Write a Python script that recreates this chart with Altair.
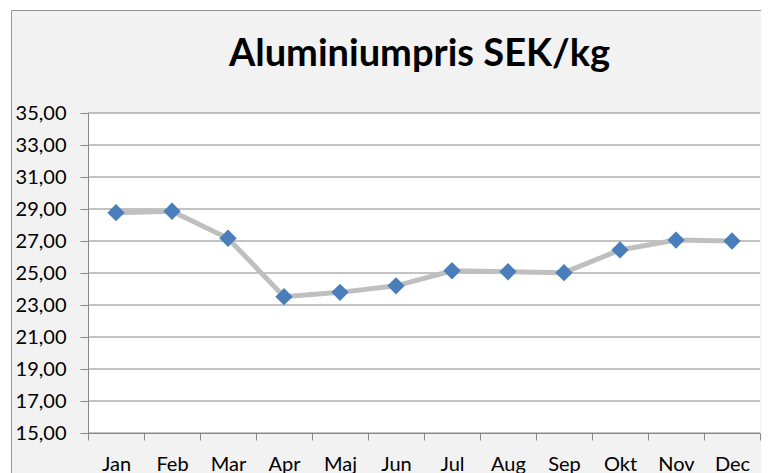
import altair as alt
import pandas as pd

months = ["Jan", "Feb", "Mar", "Apr", "Maj", "Jun", "Jul", "Aug", "Sep", "Okt", "Nov", "Dec"]
prices = [28.77, 28.86, 27.17, 23.52, 23.79, 24.20, 25.14, 25.08, 25.02, 26.44, 27.06, 27.00]
y_ticks = [15, 17, 19, 21, 23, 25, 27, 29, 31, 33, 35]
title_text = "Aluminiumpris SEK/kg"

W, H = 672, 320
GRID = "#878787"

df = pd.DataFrame({"month": months, "price": prices})
grid_df = pd.DataFrame({"v": y_ticks})
one = pd.DataFrame({"t": [title_text]})

xscale = alt.Scale(type="band", domain=months, paddingInner=0, paddingOuter=0)
yscale = alt.Scale(domain=[15, 35], nice=False, zero=False)

x_axis = alt.Axis(
    title=None, labelAngle=0, labelFont="Lato", labelFontSize=20, labelColor="black",
    labelPadding=14, tickSize=7, tickColor=GRID, domainColor=GRID, tickBand="extent",
    grid=False, zindex=1,
)
y_axis = alt.Axis(
    title=None, values=y_ticks, labelExpr="replace(format(datum.value, '.2f'), '.', ',')",
    labelFont="Lato", labelFontSize=20, labelColor="black", labelPadding=14,
    tickSize=8, tickColor=GRID, domainColor=GRID, grid=False, zindex=1,
)

frame = alt.Chart(one).mark_rect(fill="#f2f2f2", stroke="#979797", strokeWidth=1).encode(
    x=alt.value(-76.5), y=alt.value(-102.5), x2=alt.value(W + 60), y2=alt.value(H + 100)
)
plot_bg = alt.Chart(one).mark_rect(fill="white").encode(
    x=alt.value(0), x2=alt.value(W), y=alt.value(0), y2=alt.value(H)
)
grid = alt.Chart(grid_df).mark_rule(color=GRID, strokeWidth=1).encode(
    y=alt.Y("v:Q", scale=yscale, axis=y_axis)
)
line = alt.Chart(df).mark_line(color="#bfbfbf", strokeWidth=5).encode(
    x=alt.X("month:N", scale=xscale, sort=months, axis=x_axis),
    y=alt.Y("price:Q", scale=yscale, axis=y_axis),
)
points = alt.Chart(df).mark_point(shape="diamond", filled=True, size=300, color="#4a7ebb", opacity=1).encode(
    x=alt.X("month:N", scale=xscale, sort=months, axis=x_axis),
    y=alt.Y("price:Q", scale=yscale, axis=y_axis),
)
title = alt.Chart(one).mark_text(
    font="Lato", fontSize=38, fontWeight="bold", align="center", baseline="alphabetic", color="black"
).encode(x=alt.value(W / 2 - 4.5), y=alt.value(-47), text="t:N")

chart = alt.layer(frame, plot_bg, grid, line, points, title).properties(
    width=W, height=H,
    padding={"left": 80, "top": 105, "right": 1, "bottom": 40},
    autosize="none",
    background="white",
).configure_view(stroke=None)

chart.save("out.html", embed_options={"renderer": "svg", "actions": False})
